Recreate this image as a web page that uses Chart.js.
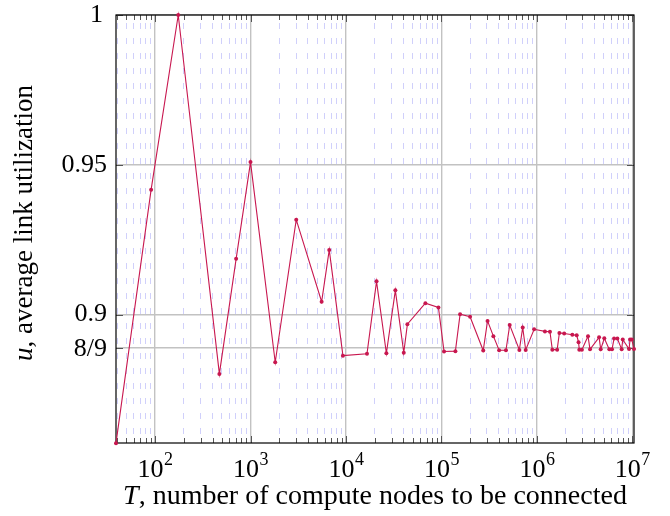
<!DOCTYPE html>
<html>
<head>
<meta charset="utf-8">
<script src="https://cdn.jsdelivr.net/npm/chart.js@4"></script>
<style>
  html, body { margin: 0; padding: 0; background: #fff; }
  .wrap { width: 670px; height: 516px; }
</style>
</head>
<body>
<div class="wrap"><canvas id="chart" width="670" height="516"></canvas></div>
<script>
// T, number of compute nodes
const nodes = [39, 91, 175, 472, 707, 1000, 1815, 3013, 5560, 6680, 9290,
  16600, 20900, 26500, 32900, 40300, 44000, 67900, 93000, 106500, 140000,
  156800, 199500, 274000, 304000, 350000, 402000, 474000, 519000, 655000,
  710000, 763000, 935000, 1213000, 1370000, 1450000, 1630000, 1720000,
  1930000, 2350000, 2610000, 2730000, 2780000, 2960000, 3430000, 3600000,
  4480000, 4660000, 5080000, 5730000, 6120000, 6430000, 6960000, 7730000,
  7930000, 9230000, 9460000, 9860000, 10400000];

// u, average link utilization
const util = [0.8571, 0.9417, 1.0, 0.8802, 0.9186, 0.9509, 0.8841, 0.9317, 0.9043, 0.9216, 0.8863,
  0.8869, 0.9111, 0.8871, 0.9081, 0.8873, 0.8968, 0.9038, 0.9024, 0.8877, 0.8878,
  0.9001, 0.8993, 0.8880, 0.8979, 0.8928, 0.8881, 0.8881, 0.8965, 0.8882,
  0.8957, 0.8882, 0.8951, 0.8944, 0.8943, 0.8883, 0.8883, 0.8939,
  0.8937, 0.8933, 0.8931, 0.8908, 0.8883, 0.8883, 0.8928, 0.8884,
  0.8924, 0.8884, 0.8921, 0.8884, 0.8884, 0.8920, 0.8920, 0.8884,
  0.8917, 0.8885, 0.8917, 0.8917, 0.8885];

const yTicks = [8 / 9, 0.9, 0.95, 1];
const yLabels = ['8/9', '0.9', '0.95', '1'];
const xExponents = [2, 3, 4, 5, 6, 7];

const xMin = nodes[0];
const xMax = nodes[nodes.length - 1];
const yMin = 6 / 7;
const yMax = 1;

const xTicks = [];
for (let d = 1; d <= 7; d++) {
  for (let m = 1; m <= 9; m++) {
    const v = m * Math.pow(10, d);
    if (v >= xMin && v <= xMax) xTicks.push(v);
  }
}

const isMajor = v => Math.abs(Math.log10(v) - Math.round(Math.log10(v))) < 1e-9;

const font = 'Liberation Serif, Times New Roman, serif';
const lineColor = '#c8174f';

const frame = {
  id: 'frame',
  beforeDatasetsDraw(chart) {
    const {ctx, chartArea: a, scales} = chart;
    ctx.save();
    ctx.strokeStyle = '#555';
    ctx.lineWidth = 1;
    ctx.beginPath();
    xTicks.forEach(v => {
      const x = Math.round(scales.x.getPixelForValue(v)) + 0.5;
      const len = isMajor(v) ? 7 : 5;
      ctx.moveTo(x, a.bottom); ctx.lineTo(x, a.bottom - len);
      ctx.moveTo(x, a.top); ctx.lineTo(x, a.top + len);
    });
    yTicks.forEach(v => {
      const y = Math.round(scales.y.getPixelForValue(v)) + 0.5;
      ctx.moveTo(a.left, y); ctx.lineTo(a.left + 7, y);
      ctx.moveTo(a.right, y); ctx.lineTo(a.right - 7, y);
    });
    ctx.stroke();
    ctx.strokeStyle = '#000';
    ctx.lineWidth = 1.2;
    ctx.strokeRect(a.left, a.top, a.right - a.left, a.bottom - a.top);
    ctx.restore();
  },
  afterDraw(chart) {
    const {ctx, chartArea: a, scales} = chart;
    ctx.save();
    ctx.fillStyle = '#000';

    // y tick labels
    ctx.font = '26px ' + font;
    ctx.textAlign = 'right';
    ctx.textBaseline = 'middle';
    yTicks.forEach((v, i) => {
      const y = scales.y.getPixelForValue(v);
      ctx.fillText(yLabels[i], i === 3 ? 103 : 107, y + (i === 0 ? 1 : 0));
    });

    // x tick labels, 10 with a raised exponent
    ctx.textAlign = 'left';
    ctx.textBaseline = 'alphabetic';
    xExponents.forEach(e => {
      const x = scales.x.getPixelForValue(Math.pow(10, e));
      ctx.font = '26px ' + font;
      const wb = ctx.measureText('10').width;
      ctx.font = '18px ' + font;
      const we = ctx.measureText(String(e)).width;
      const x0 = x - (wb + we) / 2;
      ctx.font = '26px ' + font;
      ctx.fillText('10', x0, 477);
      ctx.font = '18px ' + font;
      ctx.fillText(String(e), x0 + wb + 0.5, 465);
    });

    ctx.textBaseline = 'middle';
    // x title
    const xi = 'T', xr = ', number of compute nodes to be connected';
    ctx.font = 'italic 28px ' + font;
    const wi = ctx.measureText(xi).width;
    ctx.font = '28px ' + font;
    const wr = ctx.measureText(xr).width;
    const x0 = (a.left + a.right) / 2 - (wi + wr) / 2;
    ctx.font = 'italic 28px ' + font;
    ctx.fillText(xi, x0, 497);
    ctx.font = '28px ' + font;
    ctx.fillText(xr, x0 + wi, 497);

    // y title
    const yi = 'u', yr = ', average link utilization';
    ctx.translate(25, (a.top + a.bottom) / 2 - 6);
    ctx.rotate(-Math.PI / 2);
    ctx.font = 'italic 27px ' + font;
    const wyi = ctx.measureText(yi).width;
    ctx.font = '27px ' + font;
    const wyr = ctx.measureText(yr).width;
    const y0 = -(wyi + wyr) / 2;
    ctx.font = 'italic 27px ' + font;
    ctx.fillText(yi, y0, 0);
    ctx.font = '27px ' + font;
    ctx.fillText(yr, y0 + wyi, 0);
    ctx.restore();
  }
};

new Chart(document.getElementById('chart'), {
  type: 'line',
  data: {
    datasets: [{
      data: nodes.map((t, i) => ({x: t, y: util[i]})),
      borderColor: lineColor,
      backgroundColor: lineColor,
      borderWidth: 1.1,
      pointRadius: 2,
      pointHoverRadius: 2,
      pointBorderWidth: 0,
      tension: 0,
      clip: false,
    }],
  },
  options: {
    responsive: false,
    animation: false,
    events: [],
    layout: {padding: {top: 15, right: 36, left: 0, bottom: 0}},
    plugins: {legend: {display: false}, tooltip: {enabled: false}},
    scales: {
      x: {
        type: 'logarithmic',
        min: xMin,
        max: xMax,
        afterBuildTicks: s => { s.ticks = xTicks.map(v => ({value: v})); },
        afterFit: s => { s.height = 73; },
        ticks: {display: false},
        grid: {
          drawTicks: false,
          color: c => isMajor(c.tick.value) ? '#c2c2c2' : '#d0d0fb',
          lineWidth: c => isMajor(c.tick.value) ? 1.4 : 1,
        },
        border: {
          display: false,
          dash: c => (c.tick && isMajor(c.tick.value)) ? [] : [6, 9],
          dashOffset: 7,
        },
      },
      y: {
        min: yMin,
        max: yMax,
        afterBuildTicks: s => { s.ticks = yTicks.map(v => ({value: v})); },
        afterFit: s => { s.width = 116; },
        ticks: {display: false},
        grid: {drawTicks: false, color: '#c2c2c2', lineWidth: 1.4},
        border: {display: false},
      },
    },
  },
  plugins: [frame],
});
</script>
</body>
</html>
